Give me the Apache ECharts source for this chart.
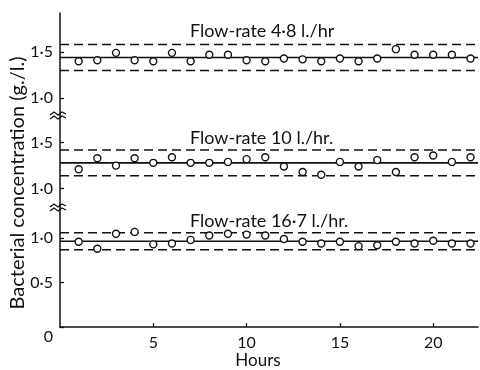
<!DOCTYPE html>
<html><head><meta charset="utf-8">
<script src="https://cdn.jsdelivr.net/npm/echarts@6/dist/echarts.min.js"></script>
<style>html,body{margin:0;padding:0;background:#fff}#c{width:480px;height:370px}</style>
</head><body><div id="c"></div>
<script>
const hours = [1,2,3,4,5,6,7,8,9,10,11,12,13,14,15,16,17,18,19,20,21,22];
const conc48 = [1.40,1.41,1.49,1.41,1.40,1.49,1.40,1.47,1.47,1.41,1.40,1.43,1.42,1.40,1.43,1.40,1.43,1.53,1.47,1.47,1.47,1.43];
const conc10 = [1.21,1.33,1.25,1.33,1.28,1.34,1.28,1.28,1.29,1.32,1.34,1.24,1.18,1.15,1.29,1.24,1.31,1.18,1.34,1.36,1.29,1.34];
const conc167 = [0.96,0.88,1.05,1.07,0.93,0.94,0.98,1.03,1.05,1.04,1.03,0.99,0.96,0.94,0.96,0.91,0.92,0.96,0.94,0.97,0.94,0.94];
const limits48 = {mean:1.44, upper:1.58, lower:1.30};
const limits10 = {mean:1.28, upper:1.42, lower:1.14};
const limits167 = {mean:0.965, upper:1.06, lower:0.87};
const titles = ['Flow-rate 4·8 l./hr','Flow-rate 10 l./hr.','Flow-rate 16·7 l./hr.'];
const xTicks = [5,10,15,20];
const yTicksTop = [1.0,1.5];
const yTicksMid = [1.0,1.5];
const yTicksBot = [0,0.5,1.0];
const xMax = 22.4;

const FONT = 'Lato';
const INK = '#111';
const fmt = v => v === 0 ? '{z|0}' : v.toFixed(1).replace('.', '·');

const grids = [
  {left:60, right:2, top:13, height:102},
  {left:60, right:2, top:115, height:92},
  {left:60, right:2, top:207, height:123}
];
const yRanges = [[0.82,1.92],[0.8,1.8],[0,1.35]];
const yTicks = [yTicksTop, yTicksMid, yTicksBot];

const xAxes = grids.map((g,i)=>({
  gridIndex:i, type:'value', min:0, max:xMax, show:i===2,
  splitLine:{show:false},
  axisLine:{show:true, lineStyle:{color:INK,width:1.5}},
  axisTick:{show:true, inside:true, length:4, customValues:xTicks, lineStyle:{color:INK,width:1.3}},
  axisLabel:{customValues:xTicks, fontFamily:FONT, fontSize:16, color:INK, margin:8},
  name: i===2 ? 'Hours' : '', nameLocation:'middle', nameGap:24,
  nameTextStyle:{fontFamily:FONT, fontSize:17, color:INK, padding:[0,22,0,0]}
}));
const yAxes = grids.map((g,i)=>({
  gridIndex:i, type:'value', min:yRanges[i][0], max:yRanges[i][1],
  splitLine:{show:false},
  axisLine:{show:true, lineStyle:{color:INK,width:1.5}},
  axisTick:{show:true, inside:true, length:4, customValues:yTicks[i], lineStyle:{color:INK,width:1.3}},
  axisLabel:{customValues:yTicks[i], formatter:fmt, fontFamily:FONT, fontSize:16, color:INK, margin:7,
    rich:{z:{fontFamily:FONT, fontSize:16, color:INK, padding:[20,0,0,0]}}}
}));

const datasets = [[conc48,limits48],[conc10,limits10],[conc167,limits167]];
const series = [];
datasets.forEach(([vals,lim],i)=>{
  [['upper','dashed'],['lower','dashed'],['mean','solid']].forEach(([k,t])=>{
    series.push({type:'line', xAxisIndex:i, yAxisIndex:i, symbol:'none', silent:true,
      data:[[0,lim[k]],[xMax,lim[k]]],
      lineStyle:{color:INK, width:1.6, type: t==='dashed' ? [9,5] : 'solid'}, z:2});
  });
  series.push({type:'scatter', xAxisIndex:i, yAxisIndex:i, symbol:'circle', symbolSize:7,
    data: hours.map((h,j)=>[h, vals[j]]),
    itemStyle:{color:'#fff', borderColor:INK, borderWidth:1.4, opacity:1}, z:5});
});

const chart = echarts.init(document.getElementById('c'), null, {renderer:'canvas'});
chart.setOption({
  animation:false,
  backgroundColor:'#fff',
  grid:grids,
  xAxis:xAxes,
  yAxis:yAxes,
  title:[
    {text:titles[0], left:190, top:22},
    {text:titles[1], left:190, top:129},
    {text:titles[2], left:190, top:212}
  ].map(t=>Object.assign(t,{padding:0, textStyle:{fontFamily:FONT, fontSize:18, fontWeight:'normal', color:INK}})),
  series
});

// axis-break marks and y-axis title
const b1 = chart.convertToPixel({gridIndex:1}, [0, yRanges[1][1]]);
const b2 = chart.convertToPixel({gridIndex:2}, [0, yRanges[2][1]]);
const zig = (x,y)=>[[x-8,y+2],[x-4,y-1],[x,y+2],[x+4,y-1],[x+8,y+1]];
const graphics = [];
[b1,b2].forEach(p=>{
  [-2,2].forEach(d=>{
    graphics.push({type:'polyline', shape:{points:zig(p[0]-2,p[1]+d)}, style:{stroke:INK, lineWidth:1.2, fill:null}, z:10});
  });
});
graphics.push({type:'text', x:18, y:183, rotation:Math.PI/2,
  style:{text:'Bacterial concentration (g./l.)', fontFamily:FONT, fontSize:20, fill:INK, align:'center', verticalAlign:'middle'}});
chart.setOption({graphic:graphics});
</script>
</body></html>
